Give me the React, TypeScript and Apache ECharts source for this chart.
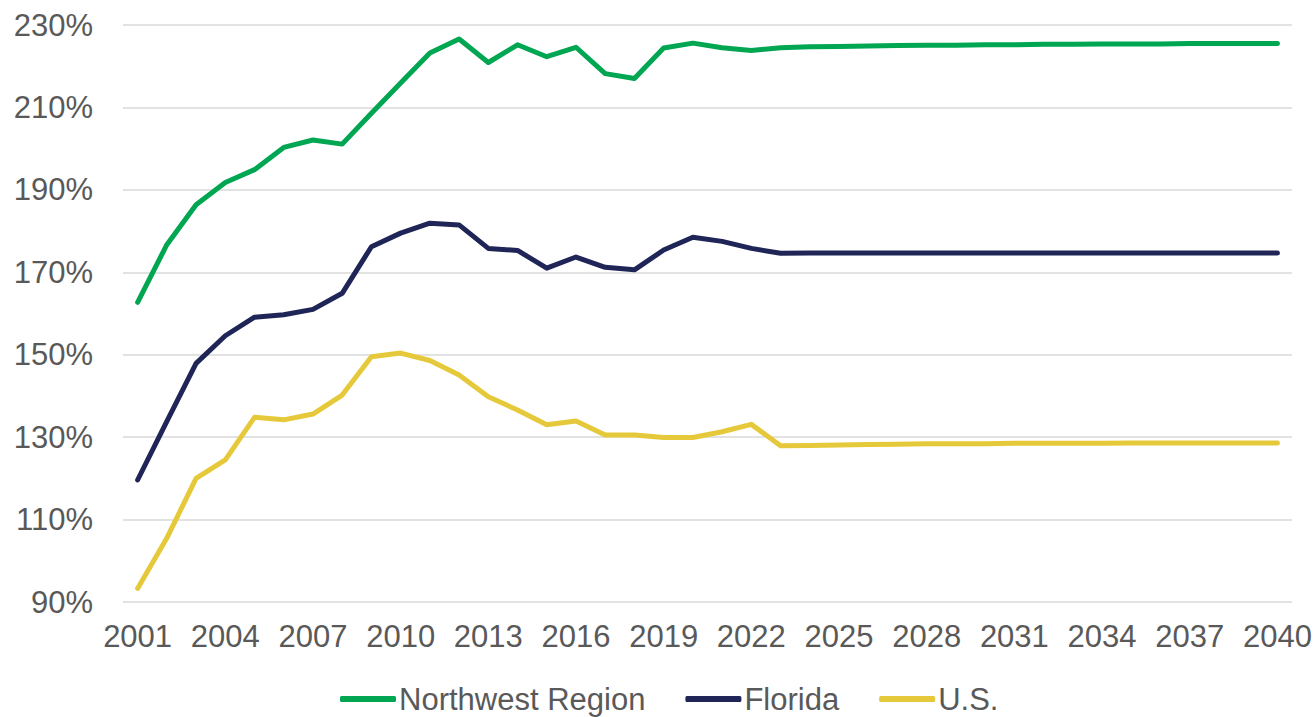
import React, { useEffect, useRef } from "react";
import * as echarts from "echarts";

const years: string[] = [];
for (let y = 2001; y <= 2040; y++) years.push(String(y));

const northwest = [
  162.7, 176.7, 186.4, 191.8, 194.9, 200.3, 202.1, 201.1, 208.6, 215.9,
  223.2, 226.6, 220.9, 225.2, 222.3, 224.6, 218.2, 217.0, 224.4, 225.6,
  224.5, 223.8, 224.5, 224.7, 224.8, 224.9, 225.0, 225.1, 225.1, 225.2,
  225.2, 225.3, 225.3, 225.4, 225.4, 225.4, 225.5, 225.5, 225.5, 225.5,
];
const florida = [
  119.6, 133.8, 147.9, 154.6, 159.1, 159.7, 161.0, 164.9, 176.2, 179.5,
  181.9, 181.5, 175.8, 175.3, 171.0, 173.7, 171.2, 170.6, 175.4, 178.5,
  177.5, 175.8, 174.6, 174.7, 174.7, 174.7, 174.7, 174.7, 174.7, 174.7,
  174.7, 174.7, 174.7, 174.7, 174.7, 174.7, 174.7, 174.7, 174.7, 174.7,
];
const us = [
  93.3, 105.5, 120.0, 124.5, 134.8, 134.2, 135.6, 140.2, 149.5, 150.4,
  148.6, 145.1, 139.8, 136.6, 133.0, 133.9, 130.5, 130.5, 129.9, 129.9,
  131.3, 133.1, 127.9, 128.0, 128.1, 128.2, 128.3, 128.4, 128.4, 128.4,
  128.5, 128.5, 128.5, 128.5, 128.6, 128.6, 128.6, 128.6, 128.6, 128.6,
];

const seriesNames = ["Northwest Region", "Florida", "U.S."];
const colors = ["#00A651", "#1F2556", "#E5C93A"];

export default function App() {
  const ref = useRef<HTMLDivElement>(null);
  useEffect(() => {
    if (!ref.current) return;
    const chart = echarts.init(ref.current, undefined, { renderer: "svg" });
    const font = "Liberation Sans, Arial, sans-serif";
    const datasets = [northwest, florida, us];
    chart.setOption({
      animation: false,
      color: colors,
      grid: { left: 123, right: 24, top: 25, bottom: 115, containLabel: false },
      legend: {
        top: 682,
        left: 340,
        padding: 0,
        itemWidth: 56,
        itemHeight: 6,
        itemGap: 40,
        icon: "roundRect",
        data: seriesNames,
        textStyle: { color: "#595959", fontSize: 31, fontFamily: font, padding: [0, 0, 0, -2], lineHeight: 34 },
      },
      xAxis: {
        type: "category",
        data: years,
        boundaryGap: true,
        axisLine: { show: false },
        axisTick: { show: false },
        axisLabel: { interval: 2, color: "#595959", fontSize: 31, fontFamily: font, margin: 19 },
      },
      yAxis: {
        type: "value",
        min: 90,
        max: 230,
        interval: 20,
        axisLine: { show: false },
        axisTick: { show: false },
        splitLine: { lineStyle: { color: "#D9D9D9", width: 1.5 } },
        axisLabel: { formatter: "{value}%", color: "#595959", fontSize: 31, fontFamily: font, margin: 30 },
      },
      series: seriesNames.map((name, i) => ({
        name,
        type: "line",
        data: datasets[i],
        symbol: "none",
        lineStyle: { width: 5, color: colors[i], cap: "round", join: "round" },
        itemStyle: { color: colors[i] },
      })),
    });
    return () => chart.dispose();
  }, []);
  return (
    <div
      ref={ref}
      style={{ position: "fixed", left: 0, top: 0, width: 1316, height: 717, background: "#fff" }}
    />
  );
}
